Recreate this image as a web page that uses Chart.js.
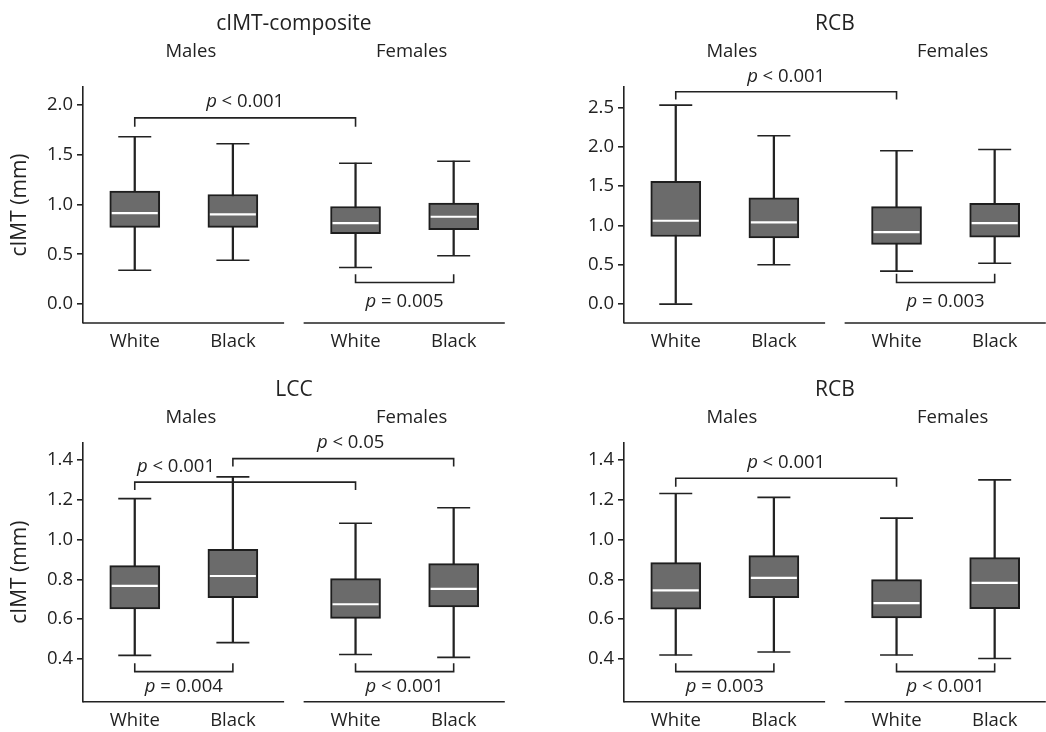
<!DOCTYPE html>
<html>
<head>
<meta charset="utf-8">
<title>cIMT by sex and race</title>
<script src="https://cdn.jsdelivr.net/npm/chart.js@4.4.1/dist/chart.umd.min.js"></script>
<style>
  html, body { margin: 0; padding: 0; background: #fff; }
  body { position: relative; width: 1046px; height: 732px; overflow: hidden; }
  canvas { position: absolute; }
</style>
</head>
<body>
<canvas id="composite" width="530" height="366" style="left:0;top:0"></canvas>
<canvas id="rcbTop" width="530" height="366" style="left:541px;top:0"></canvas>
<canvas id="lcc" width="530" height="366" style="left:0;top:366px"></canvas>
<canvas id="rcbBottom" width="530" height="366" style="left:541px;top:366px"></canvas>
<script>
const groups = ['White', 'Black', 'White', 'Black'];
const sexes = ['Males', 'Females'];
const positions = [1, 2, 3.25, 4.25];

// each box: [lower whisker, Q1, median, Q3, upper whisker]
const compositeBoxes = [
  [0.34, 0.77, 0.914, 1.135, 1.68],
  [0.44, 0.77, 0.90, 1.10, 1.61],
  [0.368, 0.706, 0.813, 0.98, 1.415],
  [0.485, 0.746, 0.877, 1.014, 1.435]
];
const rcbTopBoxes = [
  [0.0, 0.86, 1.06, 1.56, 2.53],
  [0.50, 0.84, 1.04, 1.35, 2.14],
  [0.42, 0.76, 0.915, 1.24, 1.95],
  [0.52, 0.85, 1.03, 1.28, 1.965]
];
const lccBoxes = [
  [0.418, 0.651, 0.767, 0.869, 1.206],
  [0.482, 0.708, 0.817, 0.951, 1.315],
  [0.422, 0.604, 0.675, 0.804, 1.082],
  [0.408, 0.661, 0.752, 0.879, 1.160]
];
const rcbBottomBoxes = [
  [0.42, 0.65, 0.745, 0.884, 1.232],
  [0.435, 0.708, 0.807, 0.919, 1.212],
  [0.42, 0.606, 0.681, 0.799, 1.108],
  [0.402, 0.653, 0.782, 0.909, 1.30]
];

// significance brackets: groups joined, bar level, tip level, text, label level
const compositeBrackets = [
  {from: 0, to: 2, level: 1.87, tip: 1.78, text: '< 0.001', labelY: 2.034},
  {from: 2, to: 3, level: 0.217, tip: 0.30, text: '= 0.005', labelY: 0.026}
];
const rcbTopBrackets = [
  {from: 0, to: 2, level: 2.70, tip: 2.60, text: '< 0.001', labelY: 2.89},
  {from: 2, to: 3, level: 0.275, tip: 0.385, text: '= 0.003', labelY: 0.033}
];
const lccBrackets = [
  {from: 0, to: 2, level: 1.289, tip: 1.249, text: '< 0.001', labelY: 1.366, labelX: 1.42},
  {from: 1, to: 3, level: 1.407, tip: 1.367, text: '< 0.05', labelY: 1.487, labelX: 3.2},
  {from: 0, to: 1, level: 0.336, tip: 0.378, text: '= 0.004', labelY: 0.261},
  {from: 2, to: 3, level: 0.336, tip: 0.378, text: '< 0.001', labelY: 0.261}
];
const rcbBottomBrackets = [
  {from: 0, to: 2, level: 1.308, tip: 1.266, text: '< 0.001', labelY: 1.387},
  {from: 0, to: 1, level: 0.336, tip: 0.378, text: '= 0.003', labelY: 0.261},
  {from: 2, to: 3, level: 0.336, tip: 0.378, text: '< 0.001', labelY: 0.261}
];

const wideTicks = [0, 0.5, 1.0, 1.5, 2.0];
const rcbTopTicks = [0, 0.5, 1.0, 1.5, 2.0, 2.5];
const narrowTicks = [0.4, 0.6, 0.8, 1.0, 1.2, 1.4];

const INK = '#222';
const FAMILY = '"Open Sans", "Noto Sans", sans-serif';
const SIZE = 18.5;
const TITLE_SIZE = 21;
const X_MIN = 0.4726, X_MAX = 4.771;
const AXIS_SPANS = [[X_MIN, 2.522], [2.721, X_MAX]];

function drawP(ctx, text, cx, cy) {
  const italic = `italic ${SIZE}px ${FAMILY}`;
  const upright = `${SIZE}px ${FAMILY}`;
  const rest = ' ' + text;
  ctx.font = italic;
  const wp = ctx.measureText('p').width;
  ctx.font = upright;
  const wr = ctx.measureText(rest).width;
  const x0 = cx - (wp + wr) / 2;
  ctx.textAlign = 'left';
  ctx.font = italic;
  ctx.fillText('p', x0, cy);
  ctx.font = upright;
  ctx.fillText(rest, x0 + wp, cy);
  ctx.textAlign = 'center';
}

const decorations = {
  id: 'decorations',
  afterDraw(chart, args, opts) {
    const {ctx, chartArea: area, scales: {x, y}} = chart;
    ctx.save();
    // x axis is broken between the two sexes
    ctx.strokeStyle = INK;
    ctx.lineWidth = 1.6;
    AXIS_SPANS.forEach(([a, b]) => {
      ctx.beginPath();
      ctx.moveTo(x.getPixelForValue(a), area.bottom);
      ctx.lineTo(x.getPixelForValue(b), area.bottom);
      ctx.stroke();
    });
    ctx.fillStyle = INK;
    ctx.textAlign = 'center';
    ctx.textBaseline = 'middle';
    ctx.font = `${TITLE_SIZE}px ${FAMILY}`;
    ctx.fillText(opts.title, (area.left + area.right) / 2, 24);
    ctx.font = `${SIZE}px ${FAMILY}`;
    sexes.forEach((s, i) => {
      const mid = (positions[2 * i] + positions[2 * i + 1]) / 2;
      ctx.fillText(s, x.getPixelForValue(mid) + 7, 52);
    });
    opts.brackets.forEach(b => {
      const lx = b.labelX !== undefined ? b.labelX : (positions[b.from] + positions[b.to]) / 2;
      drawP(ctx, b.text, x.getPixelForValue(lx), y.getPixelForValue(b.labelY));
    });
    ctx.restore();
  }
};

function makePanel(id, spec) {
  const {boxes, brackets, yMin, yMax, yTicks, title, yTitle, top, bottom} = spec;
  const font = {family: FAMILY, size: SIZE};
  const at = (i, v) => ({x: positions[i], y: v});

  const datasets = [
    { // medians
      type: 'scatter',
      data: boxes.map((b, i) => at(i, b[2])),
      pointStyle: 'line', pointRadius: 23, pointHoverRadius: 23,
      pointBorderColor: '#fff', pointBorderWidth: 2.2,
      borderColor: '#fff', borderWidth: 2.2,
      order: 0
    },
    { // interquartile boxes
      type: 'bar',
      data: boxes.map((b, i) => at(i, [b[1], b[3]])),
      backgroundColor: '#6b6b6b', borderColor: '#1e1e1e', borderWidth: 2,
      borderSkipped: false, barThickness: 50, grouped: false,
      order: 1
    },
    { // whiskers
      type: 'bar',
      data: boxes.map((b, i) => at(i, [b[0], b[4]])),
      backgroundColor: INK, borderWidth: 0,
      barThickness: 1.6, grouped: false,
      order: 2
    },
    { // whisker caps
      type: 'scatter',
      data: boxes.map((b, i) => at(i, b[0])).concat(boxes.map((b, i) => at(i, b[4]))),
      pointStyle: 'line', pointRadius: 16.5, pointHoverRadius: 16.5,
      pointBorderColor: INK, pointBorderWidth: 1.6,
      borderColor: INK, borderWidth: 1.6,
      order: 2
    }
  ];
  brackets.forEach(b => {
    datasets.push({
      type: 'line',
      data: [at(b.from, b.tip), at(b.from, b.level), at(b.to, b.level), at(b.to, b.tip)],
      borderColor: INK, borderWidth: 1.6, pointRadius: 0, tension: 0, fill: false,
      order: 3
    });
  });

  new Chart(document.getElementById(id), {
    type: 'bar',
    data: {datasets},
    plugins: [decorations],
    options: {
      responsive: false,
      animation: false,
      events: [],
      layout: {padding: {top: top, right: 15, left: 0, bottom: 0}},
      plugins: {
        legend: {display: false},
        tooltip: {enabled: false},
        decorations: {title, brackets}
      },
      scales: {
        x: {
          type: 'linear',
          min: X_MIN, max: X_MAX,
          offset: false,
          grid: {display: false, drawTicks: false},
          border: {display: false},
          afterBuildTicks: s => { s.ticks = positions.map(v => ({value: v})); },
          afterFit: s => { s.height = 366 - bottom; },
          ticks: {
            autoSkip: false, maxRotation: 0, padding: 8,
            color: INK, font,
            callback: (v, i) => groups[i]
          }
        },
        y: {
          type: 'linear',
          min: yMin, max: yMax,
          afterBuildTicks: s => { s.ticks = yTicks.map(v => ({value: v})); },
          afterFit: s => { s.width = 83; },
          grid: {display: true, drawOnChartArea: false, drawTicks: true, tickLength: 6, color: INK, lineWidth: 1.6},
          border: {display: true, color: INK, width: 1.6},
          ticks: {padding: 4, color: INK, font, callback: v => v.toFixed(1)},
          title: {
            display: !!yTitle, text: yTitle || '', color: INK,
            font: {family: FAMILY, size: TITLE_SIZE},
            padding: {top: 7, bottom: 0}
          }
        }
      }
    }
  });
}

makePanel('composite', {
  boxes: compositeBoxes, brackets: compositeBrackets,
  yMin: -0.19, yMax: 2.18, yTicks: wideTicks,
  title: 'cIMT-composite', yTitle: 'cIMT (mm)', top: 87, bottom: 323
});
makePanel('rcbTop', {
  boxes: rcbTopBoxes, brackets: rcbTopBrackets,
  yMin: -0.24, yMax: 2.76, yTicks: rcbTopTicks,
  title: 'RCB', yTitle: null, top: 87, bottom: 323
});
makePanel('lcc', {
  boxes: lccBoxes, brackets: lccBrackets,
  yMin: 0.185, yMax: 1.487, yTicks: narrowTicks,
  title: 'LCC', yTitle: 'cIMT (mm)', top: 76.7, bottom: 335.7
});
makePanel('rcbBottom', {
  boxes: rcbBottomBoxes, brackets: rcbBottomBrackets,
  yMin: 0.185, yMax: 1.487, yTicks: narrowTicks,
  title: 'RCB', yTitle: null, top: 76.7, bottom: 335.7
});
</script>
</body>
</html>
